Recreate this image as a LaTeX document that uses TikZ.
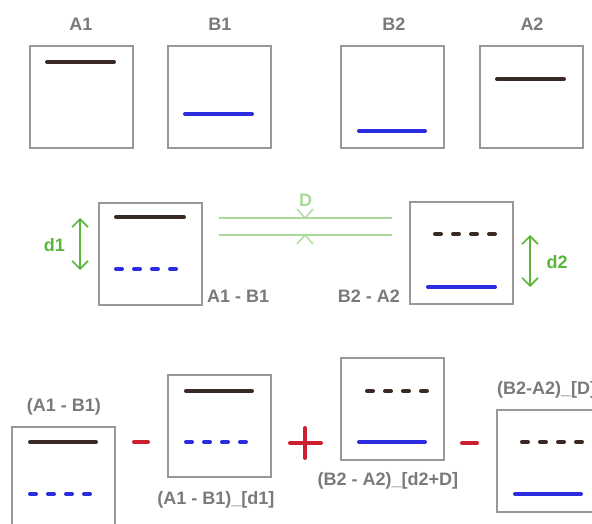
\documentclass[tikz,border=0pt]{standalone}
\usepackage{fontspec}
\setmainfont{Liberation Sans}
\usetikzlibrary{arrows.meta}
\definecolor{boxgray}{HTML}{9C9696}
\definecolor{txtgray}{HTML}{7A7A7A}
\definecolor{darkline}{HTML}{3A2A26}
\definecolor{blueline}{HTML}{2B2BE0}
\definecolor{grn}{HTML}{5DB53C}
\definecolor{lgrn}{HTML}{A9D99B}
\definecolor{redc}{HTML}{CC2030}
\begin{document}
\begin{tikzpicture}[x=1pt,y=-1pt,
  panel/.style={draw=boxgray, line width=2pt, minimum width=103pt, minimum height=102pt, inner sep=0pt, anchor=north west},
  lbl/.style={text=txtgray, font=\fontsize{18}{20}\selectfont\bfseries, inner sep=0pt, anchor=base},
  glbl/.style={text=grn, font=\fontsize{18}{20}\selectfont\bfseries, inner sep=0pt, anchor=base},
  sdark/.style={draw=darkline, line width=4pt, line cap=round},
  sblue/.style={draw=blueline, line width=4pt, line cap=round},
  ddark/.style={sdark, dash pattern=on 6pt off 12pt},
  dblue/.style={sblue, dash pattern=on 6pt off 12pt},
  dim/.style={draw=grn, line width=1.6pt, {Straight Barb[length=8pt,width=16pt]}-{Straight Barb[length=8pt,width=16pt]}},
  lg/.style={draw=lgrn, line width=1.4pt},
  op/.style={draw=redc, line width=4pt, line cap=round}]
\useasboundingbox (0,0) rectangle (592,524);
\clip (0,0) rectangle (592,524);

% top row
\node[lbl] (tA1) at (81,31) {A1};
\node[lbl] (tB1) at (220,31) {B1};
\node[lbl] (tB2) at (394,31) {B2};
\node[lbl] (tA2) at (532,31) {A2};
\node[panel] (pA1) at (29,45) {};
\node[panel] (pB1) at (167,45) {};
\node[panel] (pB2) at (340,45) {};
\node[panel] (pA2) at (479,45) {};
\draw[sdark] (47,62) -- (114,62);
\draw[sblue] (185,114) -- (252,114);
\draw[sblue] (359,131) -- (425,131);
\draw[sdark] (497,79) -- (564,79);

% middle row
\node[panel] (pM1) at (98,202) {};
\node[panel] (pM2) at (409,201) {};
\draw[sdark] (116,217) -- (184,217);
\draw[dblue] (116,269) -- (176,269);
\draw[ddark] (435,234) -- (495,234);
\draw[sblue] (428,287) -- (495,287);
\node[lbl, anchor=base west] (lM1) at (207,302) {A1 - B1};
\node[lbl, anchor=base east] (lM2) at (400,302) {B2 - A2};
\coordinate (d1a) at (80,218);
\coordinate (d1b) at (80,270);
\draw[dim] (d1a) -- (d1b);
\node[glbl] (d1) at (54.5,251) {d1};
\coordinate (d2a) at (530,235);
\coordinate (d2b) at (530,287);
\draw[dim] (d2a) -- (d2b);
\node[glbl] (d2) at (557,268) {d2};
% D gap
\coordinate (Da1) at (219,218);
\coordinate (Da2) at (392,218);
\coordinate (Db1) at (219,235);
\coordinate (Db2) at (392,235);
\draw[lg] (Da1) -- (Da2);
\draw[lg] (Db1) -- (Db2);
\draw[lg] (297,209) -- (305,218) -- (313,209);
\draw[lg] (297,244) -- (305,235) -- (313,244);
\node[glbl, text=lgrn] (Dl) at (305.5,207) {D};

% bottom row
\node[lbl] (bL1) at (64,411) {(A1 - B1)};
\node[panel] (pL1) at (11,426) {};
\draw[sdark] (30,442) -- (96,442);
\draw[dblue] (30,494) -- (90,494);
\draw[op] (134,442) -- (148,442);
\node[panel] (pL2) at (167,374) {};
\draw[sdark] (186,391) -- (252,391);
\draw[dblue] (186,442) -- (246,442);
\node[lbl] (bL2) at (216,504) {(A1 - B1)\_[d1]};
\draw[op] (290,443) -- (321,443);
\draw[op] (305,428) -- (305,458);
\node[panel] (pL3) at (340,357) {};
\draw[ddark] (367,391) -- (427,391);
\draw[sblue] (359,442) -- (425,442);
\node[lbl] (bL3) at (388,485) {(B2 - A2)\_[d2+D]};
\draw[op] (462,443) -- (477,443);
\node[panel] (pL4) at (496,409) {};
\draw[ddark] (522,442) -- (582,442);
\draw[sblue] (515,494) -- (581,494);
\node[lbl, anchor=base west] (bL4) at (497,394) {(B2-A2)\_[D]};
\end{tikzpicture}
\end{document}
